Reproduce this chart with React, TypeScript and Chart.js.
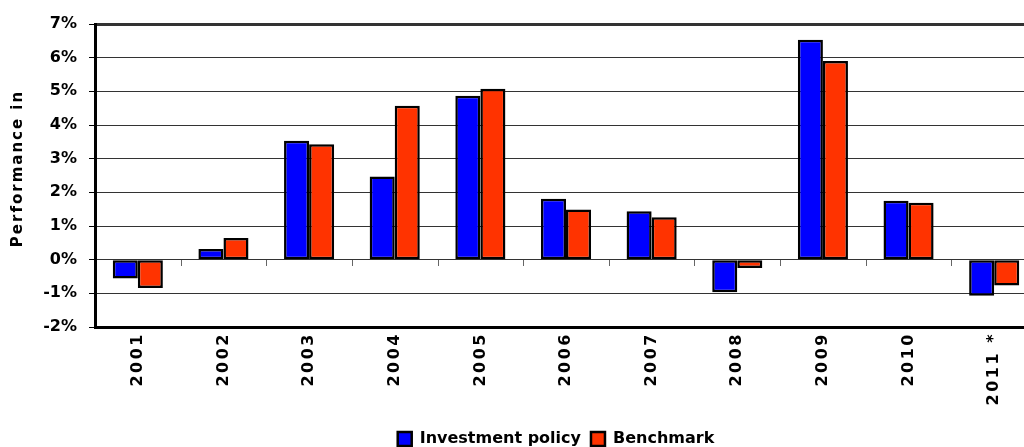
import React, { useEffect, useRef } from "react";
import { Chart, registerables } from "chart.js";

Chart.register(...registerables);

const categories = ["2001", "2002", "2003", "2004", "2005", "2006", "2007", "2008", "2009", "2010", "2011 *"];
const investmentPolicy = [-0.56, 0.32, 3.53, 2.47, 4.87, 1.81, 1.44, -0.97, 6.53, 1.75, -1.07];
const benchmark = [-0.84, 0.64, 3.43, 4.57, 5.08, 1.49, 1.26, -0.25, 5.9, 1.69, -0.77];
const yMin = -2;
const yMax = 7;
const yTitle = "Performance in";
const seriesNames = ["Investment policy", "Benchmark"];

const FONT = "'DejaVu Sans', sans-serif";

const decorPlugin = {
  id: "decor",
  afterLayout(chart: any) {
    const xs = chart.scales.x;
    const ys = chart.scales.y;
    const ctx = chart.ctx;
    if (xs && !xs.__wrapped) {
      const orig = xs.drawLabels.bind(xs);
      xs.drawLabels = (ca: any) => {
        ctx.save();
        ctx.letterSpacing = "2.5px";
        orig(ca);
        ctx.restore();
      };
      xs.__wrapped = true;
    }
    if (ys && !ys.__wrapped) {
      const origT = ys.drawTitle.bind(ys);
      ys.drawTitle = (ca: any) => {
        ctx.save();
        ctx.letterSpacing = "2px";
        ctx.translate(0, -7);
        origT(ca);
        ctx.restore();
      };
      ys.__wrapped = true;
    }
  },
  afterDatasetsDraw(chart: any) {
    const xs = chart.scales.x;
    const ys = chart.scales.y;
    const ctx = chart.ctx;
    const y0 = Math.round(ys.getPixelForValue(0));
    ctx.save();
    ctx.strokeStyle = "#666";
    ctx.lineWidth = 1;
    for (let i = 1; i < categories.length; i++) {
      const x = Math.round(xs.getPixelForValue(i - 0.5)) + 0.5;
      ctx.beginPath();
      ctx.moveTo(x, y0);
      ctx.lineTo(x, y0 + 6);
      ctx.stroke();
    }
    ctx.restore();
  },
};

export default function App() {
  const ref = useRef<HTMLCanvasElement>(null);
  useEffect(() => {
    if (!ref.current) return;
    const barCommon = {
      borderColor: "#000000",
      borderWidth: 2.5,
      borderSkipped: false,
      inflateAmount: 0,
      categoryPercentage: 0.585,
      barPercentage: 1.0,
    };
    const chart = new Chart(ref.current, {
      type: "bar",
      data: {
        labels: categories,
        datasets: [
          {
            label: seriesNames[0],
            data: investmentPolicy,
            backgroundColor: "#0000FF",
            ...barCommon,
          },
          {
            label: seriesNames[1],
            data: benchmark,
            backgroundColor: "#FF3300",
            ...barCommon,
          },
        ],
      },
      options: {
        responsive: false,
        animation: false,
        devicePixelRatio: 1,
        layout: { padding: { top: 24, left: 0, right: 0, bottom: 0 } },
        plugins: {
          tooltip: { enabled: false },
          legend: {
            position: "bottom",
            labels: {
              color: "#000",
              font: { family: FONT, size: 16, weight: "bold" },
              boxWidth: 14,
              boxHeight: 14,
              padding: 10,
            },
          },
        },
        scales: {
          x: {
            grid: { display: true, drawOnChartArea: false, drawTicks: false },
            border: { display: true, color: "#000", width: 3 },
            ticks: {
              color: "#000",
              font: { family: FONT, size: 16, weight: "bold" },
              minRotation: 90,
              maxRotation: 90,
              padding: 5,
              autoSkip: false,
            },
            afterFit: (s: any) => {
              s.height = 94;
            },
          },
          y: {
            min: yMin,
            max: yMax,
            grid: {
              color: "#333",
              lineWidth: (c: any) => (c.tick && c.tick.value === yMax ? 3 : 1),
              tickColor: "#000",
              tickLength: 6,
              tickWidth: 1,
            },
            border: { display: true, color: "#000", width: 3 },
            ticks: {
              stepSize: 1,
              color: "#000",
              padding: 12,
              font: { family: FONT, size: 16, weight: "bold" },
              callback: (v: any) => `${v}%`,
            },
            title: {
              display: true,
              text: yTitle,
              color: "#000",
              font: { family: FONT, size: 15, weight: "bold" },
              padding: { top: 9, bottom: 0 },
            },
            afterFit: (s: any) => {
              s.width = 95;
            },
          },
          y2: {
            position: "right",
            grid: { display: false, drawTicks: false },
            border: { display: false },
            ticks: { display: false },
            afterFit: (s: any) => {
              s.width = 75;
            },
          },
        },
      },
      plugins: [decorPlugin],
    } as any);
    return () => chart.destroy();
  }, []);
  return (
    <div
      style={{
        position: "fixed",
        left: 0,
        top: 0,
        width: 1024,
        height: 447,
        overflow: "hidden",
        background: "#fff",
      }}
    >
      <canvas ref={ref} width={1112} height={457} style={{ display: "block" }} />
    </div>
  );
}
